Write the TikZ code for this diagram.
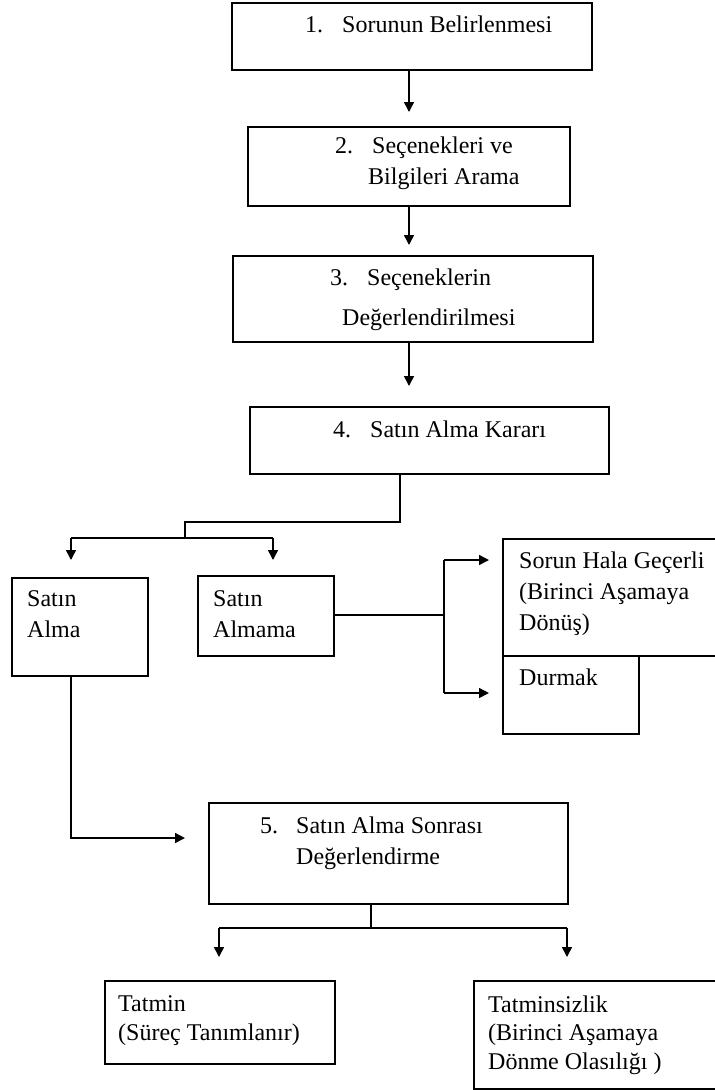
\documentclass[tikz,border=0pt]{standalone}
\usepackage{fontspec}
\setmainfont{Liberation Serif}
\usetikzlibrary{arrows.meta}
\begin{document}
\begin{tikzpicture}[x=1pt,y=-1pt,
  box/.style={draw, line width=1.5pt, anchor=north west, inner sep=0pt},
  txt/.style={anchor=base west, inner sep=0pt, align=left, font=\fontsize{24}{31}\selectfont},
  ln/.style={line width=1.5pt},
  arr/.style={line width=1.5pt, -{Triangle[length=10pt,width=10pt]}}]
\useasboundingbox (0,0) rectangle (715,1090);
% boxes
\node[box, minimum width=360pt, minimum height=67pt] (b1) at (231,2) {};
\node[box, minimum width=322pt, minimum height=79pt] (b2) at (247,126) {};
\node[box, minimum width=360pt, minimum height=86pt] (b3) at (232,255) {};
\node[box, minimum width=359pt, minimum height=67pt] (b4) at (249,406) {};
\node[box, minimum width=136pt, minimum height=98pt] (bSA) at (11,577) {};
\node[box, minimum width=136pt, minimum height=80pt] (bSAm) at (197,575) {};
\node[box, minimum width=222pt, minimum height=117pt] (bSH) at (502,538) {};
\node[box, minimum width=136pt, minimum height=78pt] (bD) at (502,655) {};
\node[box, minimum width=359pt, minimum height=101pt] (b5) at (208,802) {};
\node[box, minimum width=230pt, minimum height=83pt] (bT) at (104,980) {};
\node[box, minimum width=251pt, minimum height=108pt] (bTs) at (473,980) {};
% texts (base anchor = baseline of last line)
\node[txt] (t1) at (305,32) {\makebox[37pt][l]{1.}Sorunun Belirlenmesi};
\node[txt] (t2) at (335,184) {\makebox[37pt][l]{2.}Seçenekleri ve\\\hspace*{33pt}Bilgileri Arama};
\node[txt] (t3) at (330,325) {\makebox[37pt][l]{3.}Seçeneklerin\\[9pt]\hspace*{12pt}Değerlendirilmesi};
\node[txt] (t4) at (333,437) {\makebox[37pt][l]{4.}Satın Alma Kararı};
\node[txt] (tSA) at (27,637) {Satın\\Alma};
\node[txt] (tSAm) at (213,637) {Satın\\Almama};
\node[txt] (tSH) at (519,630) {Sorun Hala Geçerli\\(Birinci Aşamaya\\Dönüş)};
\node[txt] (tD) at (519,685) {Durmak};
\node[txt] (t5) at (260,864) {\makebox[36pt][l]{5.}Satın Alma Sonrası\\\hspace*{36pt}Değerlendirme};
\node[txt, font=\fontsize{24}{28.5}\selectfont] (tT) at (118,1040) {Tatmin\\(Süreç Tanımlanır)};
\node[txt, font=\fontsize{24}{28.5}\selectfont] (tTs) at (488,1069) {Tatminsizlik\\(Birinci Aşamaya\\Dönme Olasılığı )};
% helper coordinates
\coordinate (cx) at (409,0);
\coordinate (j0) at (400,0);
\coordinate (j1) at (185,522);
\coordinate (j2) at (185,538);
\coordinate (a1) at (71,538);
\coordinate (a2) at (273,538);
\coordinate (k0) at (444,615);
\coordinate (k1) at (444,560);
\coordinate (k2) at (444,693);
\coordinate (m1) at (71,838);
\coordinate (n0) at (371,928);
\coordinate (n1) at (219,928);
\coordinate (n2) at (567,928);
% connectors
\draw[arr, shorten >=14pt] (b1.south -| cx) -- (b2.north -| cx);
\draw[arr, shorten >=10pt] (b2.south -| cx) -- (b3.north -| cx);
\draw[arr, shorten >=20pt] (b3.south -| cx) -- (b4.north -| cx);
\draw[ln] (b4.south -| j0) |- (j1) -- (j2);
\draw[ln] (a1) -- (a2);
\draw[arr, shorten >=17pt] (a1) -- (a1 |- bSA.north);
\draw[arr, shorten >=15pt] (a2) -- (a2 |- bSAm.north);
\draw[ln] (bSAm.east |- k0) -- (k0);
\draw[ln] (k1) -- (k2);
\draw[arr, shorten >=13pt] (k1) -- (k1 -| bSH.west);
\draw[arr, shorten >=13pt] (k2) -- (k2 -| bD.west);
\draw[arr, shorten >=23pt] (bSA.south -| m1) |- (m1 -| b5.west);
\draw[ln] (b5.south -| n0) -- (n0);
\draw[ln] (n1) -- (n2);
\draw[arr, shorten >=23pt] (n1) -- (n1 |- bT.north);
\draw[arr, shorten >=23pt] (n2) -- (n2 |- bTs.north);
\end{tikzpicture}
\end{document}
